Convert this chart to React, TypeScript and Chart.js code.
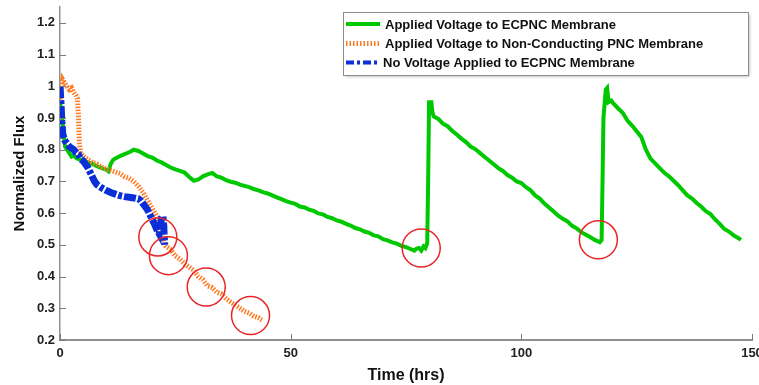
import React, { useEffect, useRef } from "react";
import { Chart, registerables } from "chart.js";
Chart.register(...registerables);

// ---------- data ----------
const greenTime = [0, 0.4, 0.8, 1.1, 1.5, 2, 2.5, 3, 3.5, 4, 5, 6, 7, 8, 9, 10, 10.5, 11, 11.5, 12, 13, 14, 15, 16, 17, 18, 19, 20, 21, 22, 23, 24, 25, 26, 27, 28, 29, 30, 31, 32, 33, 34, 35, 36, 37, 38, 39, 40, 41, 42, 43, 44, 45, 46, 47, 48, 49, 50, 51, 52, 53, 54, 55, 56, 57, 58, 59, 60, 61, 62, 63, 64, 65, 66, 67, 68, 69, 70, 71, 72, 73, 74, 75, 76, 76.8, 77.3, 77.8, 78.3, 78.8, 79.2, 79.6, 79.8, 80, 80.5, 80.7, 81, 82, 83, 84, 85, 86, 87, 88, 89, 90, 91, 92, 93, 94, 95, 96, 97, 98, 99, 100, 101, 102, 103, 104, 105, 106, 107, 108, 109, 110, 111, 112, 113, 114, 115, 116, 116.5, 117, 117.4, 117.6, 117.8, 118.3, 118.6, 118.9, 119.5, 120, 121, 122, 123, 124, 125, 126, 127, 128, 129, 130, 131, 132, 133, 134, 135, 136, 137, 138, 139, 140, 141, 142, 143, 144, 145, 146, 147, 147.6];
const greenFlux = [0.95, 0.915, 0.85, 0.81, 0.8, 0.79, 0.778, 0.782, 0.774, 0.77, 0.766, 0.76, 0.756, 0.748, 0.742, 0.737, 0.732, 0.755, 0.768, 0.772, 0.78, 0.786, 0.792, 0.8, 0.796, 0.788, 0.78, 0.775, 0.766, 0.76, 0.752, 0.744, 0.738, 0.733, 0.728, 0.714, 0.702, 0.706, 0.716, 0.722, 0.727, 0.716, 0.712, 0.704, 0.699, 0.696, 0.69, 0.686, 0.682, 0.676, 0.672, 0.666, 0.662, 0.656, 0.65, 0.644, 0.638, 0.633, 0.629, 0.621, 0.618, 0.611, 0.607, 0.599, 0.596, 0.588, 0.584, 0.577, 0.573, 0.566, 0.561, 0.553, 0.549, 0.542, 0.538, 0.53, 0.527, 0.518, 0.514, 0.508, 0.504, 0.497, 0.493, 0.487, 0.482, 0.488, 0.49, 0.482, 0.495, 0.49, 0.505, 0.7, 0.95, 0.95, 0.92, 0.905, 0.897, 0.882, 0.874, 0.86, 0.848, 0.835, 0.824, 0.81, 0.802, 0.79, 0.778, 0.766, 0.754, 0.742, 0.733, 0.72, 0.712, 0.7, 0.695, 0.682, 0.672, 0.656, 0.646, 0.63, 0.618, 0.605, 0.592, 0.582, 0.574, 0.56, 0.552, 0.54, 0.532, 0.524, 0.515, 0.512, 0.508, 0.515, 0.7, 0.9, 0.99, 0.995, 0.95, 0.955, 0.945, 0.93, 0.916, 0.892, 0.876, 0.858, 0.84, 0.8, 0.772, 0.757, 0.742, 0.727, 0.716, 0.702, 0.688, 0.672, 0.656, 0.646, 0.632, 0.62, 0.606, 0.597, 0.58, 0.566, 0.55, 0.542, 0.53, 0.522, 0.516];

const orangeTime = [0, 0.3, 0.6, 1, 1.5, 2, 2.5, 3, 3.5, 3.8, 4, 4.2, 4.5, 5, 6, 7, 8, 9, 10, 11, 12, 13, 14, 15, 16, 17, 18, 19, 20, 21, 21.5, 22, 22.5, 23, 24, 25, 26, 27, 28, 29, 30, 31, 32, 33, 34, 35, 36, 37, 38, 39, 40, 41, 42, 43, 44];
const orangeFlux = [0.95, 0.99, 1.02, 1.01, 1.0, 0.99, 0.995, 0.98, 0.97, 0.96, 0.9, 0.82, 0.79, 0.78, 0.77, 0.76, 0.755, 0.745, 0.74, 0.735, 0.73, 0.725, 0.715, 0.71, 0.7, 0.685, 0.665, 0.64, 0.615, 0.59, 0.565, 0.545, 0.505, 0.495, 0.485, 0.465, 0.455, 0.44, 0.43, 0.42, 0.4, 0.39, 0.37, 0.365, 0.35, 0.345, 0.33, 0.32, 0.31, 0.3, 0.29, 0.285, 0.275, 0.27, 0.26];

const blueTime = [0, 0.2, 0.4, 0.6, 1, 1.5, 2, 2.5, 3, 3.5, 4, 4.5, 5, 5.5, 6, 6.5, 7, 7.5, 8, 9, 10, 11, 12, 13, 14, 15, 16, 17, 17.5, 18, 18.5, 19, 19.5, 20, 20.5, 21, 21.5, 21.8, 22, 22.3, 22.5, 22.6, 22.7];
const blueFlux = [1.0, 0.95, 0.89, 0.85, 0.83, 0.82, 0.81, 0.805, 0.8, 0.79, 0.785, 0.77, 0.765, 0.755, 0.745, 0.73, 0.715, 0.7, 0.69, 0.68, 0.672, 0.665, 0.66, 0.655, 0.652, 0.65, 0.648, 0.645, 0.64, 0.63, 0.62, 0.61, 0.595, 0.58, 0.565, 0.548, 0.535, 0.56, 0.585, 0.59, 0.56, 0.52, 0.5];

const circleTime = [21.2, 23.5, 31.7, 41.3, 78.3, 116.7];
const circleFlux = [0.525, 0.466, 0.367, 0.277, 0.49, 0.516];

const yTickValues = [0.2, 0.3, 0.4, 0.5, 0.6, 0.7, 0.8, 0.9, 1, 1.1, 1.2];
const yTickLabels = ["0.2", "0.3", "0.4", "0.5", "0.6", "0.7", "0.8", "0.9", "1", "1.1", "1.2"];
const xTickValues = [0, 50, 100, 150];
const xTickLabels = ["0", "50", "100", "150"];

const seriesLabels = [
  "Applied Voltage to ECPNC Membrane",
  "Applied Voltage to Non-Conducting PNC Membrane",
  "No Voltage Applied to ECPNC Membrane",
];

const GREEN = "#00c800";
const ORANGE = "#ff7a24";
const BLUE = "#0a2ed8";
const RED = "#e8262a";
const FONT = '"Liberation Sans", Arial, sans-serif';

const toXY = (t: number[], v: number[]) => t.map((x, i) => ({ x, y: v[i] }));

const decorPlugin = {
  id: "decor",
  afterDraw(chart: any) {
    const ctx = chart.ctx as CanvasRenderingContext2D;
    const xs = chart.scales.x;
    const ys = chart.scales.y;
    const area = chart.chartArea;
    ctx.save();
    // inward ticks
    ctx.strokeStyle = "#7a7a7a";
    ctx.lineWidth = 1;
    ctx.setLineDash([]);
    ctx.beginPath();
    yTickValues.forEach((v) => {
      const py = Math.round(ys.getPixelForValue(v)) + 0.5;
      ctx.moveTo(area.left, py);
      ctx.lineTo(area.left + 6, py);
    });
    xTickValues.forEach((v) => {
      const px = Math.round(xs.getPixelForValue(v)) + 0.5;
      ctx.moveTo(px, area.bottom);
      ctx.lineTo(px, area.bottom - 6);
    });
    ctx.stroke();

    // tick labels
    ctx.fillStyle = "#222";
    ctx.font = `bold 13px ${FONT}`;
    ctx.textBaseline = "middle";
    ctx.textAlign = "right";
    yTickValues.forEach((v, i) => {
      ctx.fillText(yTickLabels[i], area.left - 5, ys.getPixelForValue(v));
    });
    ctx.textAlign = "center";
    ctx.textBaseline = "top";
    xTickValues.forEach((v, i) => {
      ctx.fillText(xTickLabels[i], xs.getPixelForValue(v), area.bottom + 7);
    });

    // legend box
    const bx = 343.5, by = 12.5, bw = 405, bh = 63;
    ctx.shadowColor = "rgba(0,0,0,0.3)";
    ctx.shadowBlur = 3;
    ctx.shadowOffsetX = 1;
    ctx.shadowOffsetY = 1;
    ctx.fillStyle = "#ffffff";
    ctx.fillRect(bx, by, bw, bh);
    ctx.shadowColor = "transparent";
    ctx.shadowBlur = 0;
    ctx.shadowOffsetX = 0;
    ctx.shadowOffsetY = 0;
    ctx.strokeStyle = "#8c8c8c";
    ctx.lineWidth = 1;
    ctx.strokeRect(bx, by, bw, bh);

    const rows = [24, 43.5, 62.5];
    const styles = [
      { c: GREEN, w: 4, d: [] as number[] },
      { c: ORANGE, w: 5, d: [1.5, 2] },
      { c: BLUE, w: 4, d: [8, 3, 3, 3] },
    ];
    rows.forEach((ry, i) => {
      ctx.strokeStyle = styles[i].c;
      ctx.lineWidth = styles[i].w;
      ctx.setLineDash(styles[i].d);
      ctx.beginPath();
      ctx.moveTo(346, ry);
      ctx.lineTo(380, ry);
      ctx.stroke();
    });
    ctx.setLineDash([]);
    ctx.fillStyle = "#111";
    ctx.font = `bold 13px ${FONT}`;
    ctx.textBaseline = "middle";
    ctx.textAlign = "left";
    rows.forEach((ry, i) => {
      ctx.fillText(seriesLabels[i], i === 2 ? 383 : 385, ry + 1);
    });
    ctx.restore();
  },
};

export default function App() {
  const ref = useRef<HTMLCanvasElement>(null);
  useEffect(() => {
    document.body.style.margin = "0";
    Chart.defaults.font.family = FONT;
    const chart = new Chart(ref.current as HTMLCanvasElement, {
      type: "line",
      data: {
        datasets: [
          {
            label: "circles",
            data: toXY(circleTime, circleFlux),
            showLine: false,
            pointRadius: 19,
            pointHoverRadius: 19,
            pointBorderColor: RED,
            pointBackgroundColor: "rgba(0,0,0,0)",
            pointBorderWidth: 1.5,
            order: 0,
          },
          {
            label: seriesLabels[2],
            data: toXY(blueTime, blueFlux),
            borderColor: BLUE,
            borderWidth: 7,
            borderDash: [12, 2, 4, 2],
            pointRadius: 0,
            tension: 0,
            order: 1,
          },
          {
            label: seriesLabels[1],
            data: toXY(orangeTime, orangeFlux),
            borderColor: ORANGE,
            borderWidth: 5,
            borderDash: [1.5, 1.5],
            pointRadius: 0,
            tension: 0,
            order: 2,
          },
          {
            label: seriesLabels[0],
            data: toXY(greenTime, greenFlux),
            borderColor: GREEN,
            borderWidth: 4,
            pointRadius: 0,
            tension: 0,
            order: 3,
          },
        ],
      },
      options: {
        responsive: false,
        animation: false,
        layout: { autoPadding: false, padding: { top: 7, right: 7, left: 0, bottom: 0 } },
        plugins: { legend: { display: false }, tooltip: { enabled: false } },
        scales: {
          x: {
            type: "linear",
            min: 0,
            max: 150,
            grid: { display: true, drawOnChartArea: false, drawTicks: false },
            border: { display: true, color: "#8f8f8f", width: 2 },
            ticks: { display: false },
            afterFit: (s: any) => {
              s.height = 45;
            },
            title: {
              display: true,
              text: "Time (hrs)",
              color: "#111",
              font: { size: 16, weight: "bold" },
              padding: { top: 0, bottom: 0 },
            },
          },
          y: {
            type: "linear",
            min: 0.2,
            max: 1.25,
            grid: { display: true, drawOnChartArea: false, drawTicks: false },
            border: { display: true, color: "#8f8f8f", width: 1.5 },
            ticks: { display: false },
            afterFit: (s: any) => {
              s.width = 60;
            },
            title: {
              display: true,
              text: "Normalized Flux",
              color: "#111",
              font: { size: 15, weight: "bold" },
              padding: { top: 11, bottom: 0 },
            },
          },
        },
      },
      plugins: [decorPlugin],
    } as any);
    return () => chart.destroy();
  }, []);
  return (
    <div style={{ width: 759, height: 385 }}>
      <canvas ref={ref} width={759} height={385} style={{ display: "block" }} />
    </div>
  );
}
